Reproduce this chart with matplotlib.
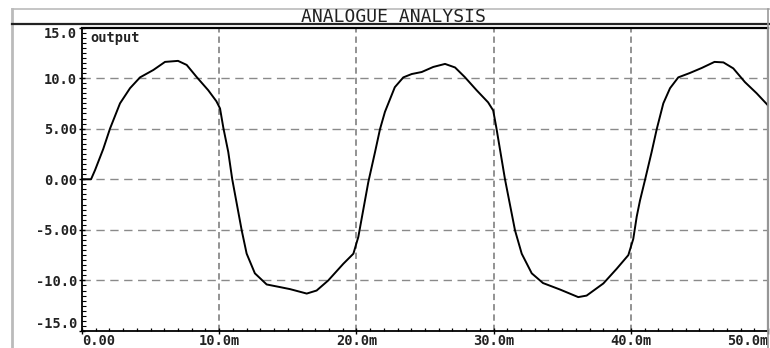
import matplotlib
matplotlib.use("Agg")
import matplotlib.pyplot as plt
from matplotlib.lines import Line2D
from matplotlib.ticker import MultipleLocator, FixedLocator

# ---- data (time in ms, output in volts) ----
t_ms = [0, 0.66, 0.95, 1.55, 2.04, 2.77, 3.5, 4.23, 5.2, 6.05, 7.0, 7.63, 8.36,
        9.2, 9.8, 10.06, 10.3, 10.66, 10.95, 11.64, 12.0, 12.6, 13.46, 14.43,
        15.16, 16.38, 17.1, 17.95, 19.05, 19.78, 20.14, 20.87, 21.36, 21.72,
        22.08, 22.8, 23.42, 24.03, 24.76, 25.6, 26.46, 27.19, 27.9, 28.76, 29.6,
        29.97, 30.2, 30.83, 31.56, 32.05, 32.78, 33.6, 34.84, 36.17, 36.78, 38.0,
        38.97, 39.82, 40.18, 40.43, 40.67, 41.03, 41.52, 41.89, 42.37, 42.86,
        43.46, 44.3, 45.17, 46.1, 46.75, 47.47, 48.32, 49.17, 50.0]
output = [0, 0, 0.9, 3.0, 5.0, 7.5, 9.0, 10.07, 10.8, 11.6, 11.7, 11.3, 10.1,
          8.8, 7.7, 7.0, 5.1, 2.7, 0, -5.05, -7.35, -9.3, -10.4, -10.66,
          -10.86, -11.3, -11.0, -10.0, -8.35, -7.36, -5.7, -0.27, 2.7, 4.95,
          6.66, 9.1, 10.07, 10.4, 10.6, 11.1, 11.4, 11.05, 10.1, 8.8, 7.6,
          6.8, 5.1, 0, -5.05, -7.36, -9.3, -10.26, -10.9, -11.65, -11.5, -10.3,
          -8.85, -7.5, -5.9, -3.7, -2.1, -0.1, 2.7, 4.95, 7.5, 9.0,
          10.07, 10.5, 11.0, 11.6, 11.55, 10.96, 9.6, 8.5, 7.3]

x_ticks = [0, 10, 20, 30, 40, 50]
x_labels = ["0.00", "10.0m", "20.0m", "30.0m", "40.0m", "50.0m"]
y_ticks = [15, 10, 5, 0, -5, -10, -15]
y_labels = ["15.0", "10.0", "5.00", "0.00", "-5.00", "-10.0", "-15.0"]
title = "ANALOGUE ANALYSIS"
trace_name = "output"

W, H = 770, 348
fig = plt.figure(figsize=(W / 100, H / 100), dpi=100)

def fx(px):
    return px / W

def fy(py):
    return 1 - py / H

ax = fig.add_axes([fx(82), fy(331), fx(768) - fx(82), fy(27.5) - fy(331)])

n = min(len(t_ms), len(output))
ax.plot(t_ms[:n], output[:n], color="black", lw=1.4, zorder=3,
        solid_joinstyle="round")

ax.set_xlim(0, 50)
ax.set_ylim(-15, 15)

# grid
for xv in x_ticks[1:-1]:
    ax.axvline(xv, color="#8a8a8a", lw=1.3, dashes=(3.5, 2.2), zorder=1)
for yv in y_ticks[1:-1]:
    ax.axhline(yv, color="#8a8a8a", lw=1.0, dashes=(6, 4), zorder=1)

mono = "DejaVu Sans Mono"
fs = 9.8
ax.xaxis.set_major_locator(FixedLocator(x_ticks))
ax.set_xticklabels(x_labels, family=mono, fontweight="bold", fontsize=fs)
ax.xaxis.set_minor_locator(MultipleLocator(1))
ax.yaxis.set_major_locator(FixedLocator(y_ticks))
ax.set_yticklabels(y_labels, family=mono, fontweight="bold", fontsize=fs)
ax.yaxis.set_minor_locator(MultipleLocator(0.5))

xl = ax.get_xticklabels()
xl[0].set_horizontalalignment("left")
xl[-1].set_horizontalalignment("right")
yl = ax.get_yticklabels()
yl[0].set_verticalalignment("top")
yl[-1].set_verticalalignment("bottom")

ax.tick_params(axis="both", which="major", direction="inout", length=5,
               width=1, color="black", pad=1, labelcolor="#222222")
ax.tick_params(axis="y", which="minor", direction="in", length=3, width=0.8,
               color="black")
ax.tick_params(axis="x", which="minor", direction="in", length=2.5, width=0.9,
               color="black")
ax.tick_params(axis="x", which="major", pad=0)

ax.spines["left"].set_linewidth(1.3)
ax.spines["bottom"].set_linewidth(1.3)
ax.spines["top"].set_linewidth(1.6)
ax.spines["right"].set_linewidth(1.6)
ax.spines["right"].set_color("#888888")

ax.text(0.6, 14.0, trace_name, family=mono, fontweight="bold", fontsize=fs,
        ha="left", va="center", color="#222222")

# outer frame / title bar
fig.add_artist(Line2D([fx(12), fx(770)], [fy(9.3), fy(9.3)], color="#bbbbbb",
                      lw=1.2, transform=fig.transFigure))
fig.add_artist(Line2D([fx(12), fx(12)], [fy(9.3), fy(348)], color="#bbbbbb",
                      lw=2.0, transform=fig.transFigure))
fig.add_artist(Line2D([fx(12), fx(770)], [fy(23.6), fy(23.6)], color="#222222",
                      lw=1.6, transform=fig.transFigure))
fig.add_artist(Line2D([fx(768), fx(768)], [fy(9.3), fy(348)], color="#999999",
                      lw=1.2, transform=fig.transFigure))

fig.text(fx(393), fy(16.8), title, family=mono, fontsize=13,
         fontweight="light", ha="center", va="center", color="#222222")

fig.savefig("out.png", dpi=100)
